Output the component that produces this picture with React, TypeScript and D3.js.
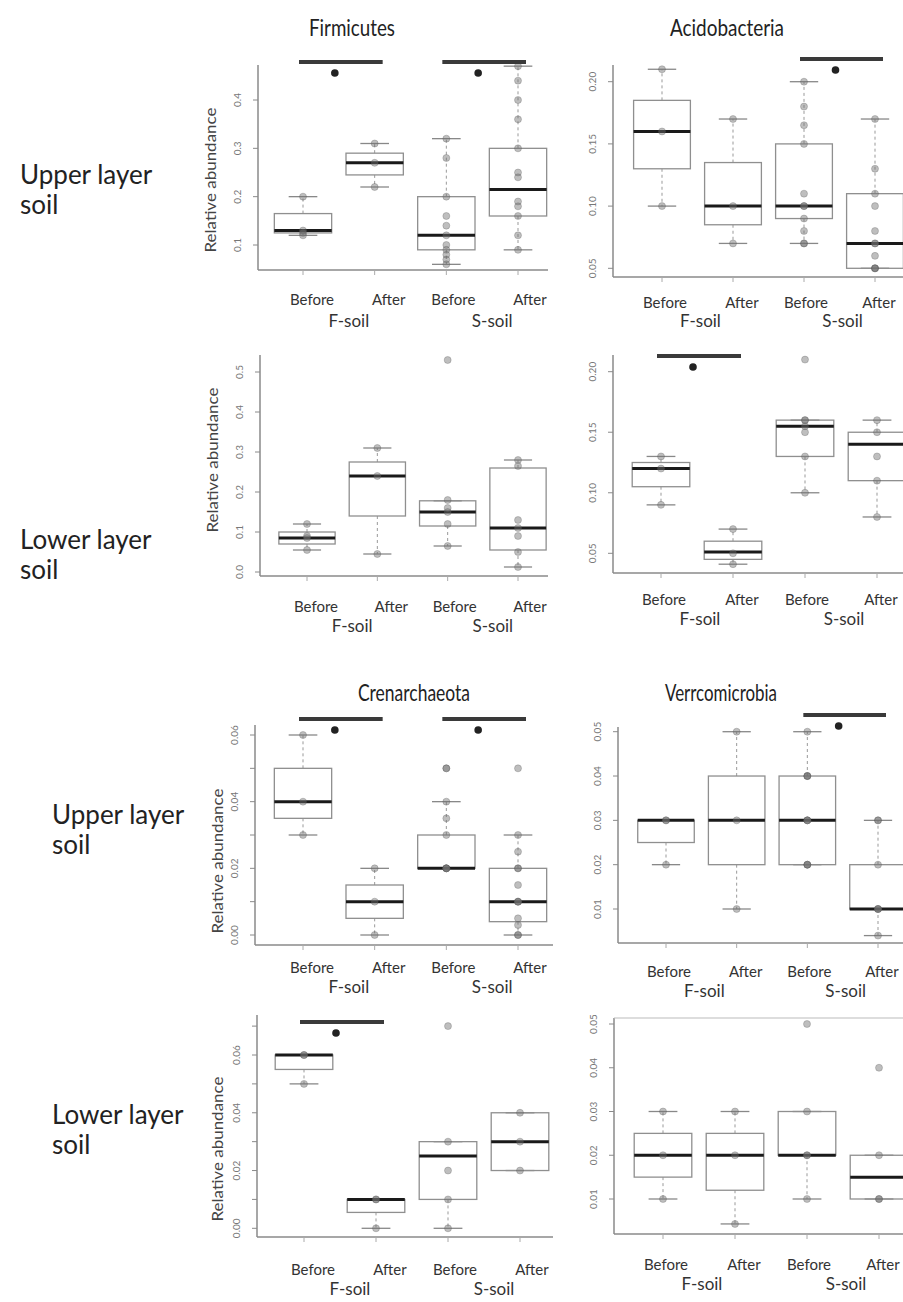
import React from "react";
import * as d3 from "d3";

// ---------- DATA ----------
const groups = ["Before", "After", "Before", "After"];
const soils = ["F-soil", "S-soil"];
const titles = ["Firmicutes", "Acidobacteria", "Crenarchaeota", "Verrcomicrobia"];
const rowLabels = ["Upper layer", "Lower layer"];

// box stats: [lowWhisker, q1, median, q3, highWhisker]
const firmUpperBoxes = [
  [0.12, 0.125, 0.13, 0.165, 0.2],
  [0.22, 0.245, 0.27, 0.29, 0.31],
  [0.06, 0.09, 0.12, 0.2, 0.32],
  [0.09, 0.16, 0.215, 0.3, 0.47],
];
const firmUpperPoints = [
  [0.2, 0.13, 0.125, 0.12],
  [0.31, 0.27, 0.22],
  [0.32, 0.28, 0.2, 0.16, 0.14, 0.12, 0.1, 0.09, 0.08, 0.07, 0.06],
  [0.47, 0.44, 0.4, 0.36, 0.3, 0.25, 0.24, 0.19, 0.18, 0.16, 0.12, 0.09],
];
const acidUpperBoxes = [
  [0.1, 0.13, 0.16, 0.185, 0.21],
  [0.07, 0.085, 0.1, 0.135, 0.17],
  [0.07, 0.09, 0.1, 0.15, 0.2],
  [0.05, 0.05, 0.07, 0.11, 0.17],
];
const acidUpperPoints = [
  [0.21, 0.16, 0.1],
  [0.17, 0.1, 0.07],
  [0.2, 0.18, 0.165, 0.15, 0.11, 0.1, 0.1, 0.09, 0.08, 0.07, 0.07],
  [0.17, 0.13, 0.11, 0.1, 0.08, 0.07, 0.07, 0.06, 0.05, 0.05, 0.05],
];
const firmLowerBoxes = [
  [0.055, 0.07, 0.085, 0.1, 0.12],
  [0.045, 0.14, 0.24, 0.275, 0.31],
  [0.065, 0.115, 0.15, 0.178, 0.178],
  [0.0125, 0.055, 0.11, 0.26, 0.28],
];
const firmLowerPoints = [
  [0.12, 0.09, 0.085, 0.055],
  [0.31, 0.24, 0.045],
  [0.53, 0.18, 0.16, 0.15, 0.12, 0.065],
  [0.28, 0.265, 0.13, 0.11, 0.09, 0.05, 0.0125],
];
const acidLowerBoxes = [
  [0.09, 0.105, 0.12, 0.125, 0.13],
  [0.041, 0.045, 0.051, 0.06, 0.07],
  [0.1, 0.13, 0.155, 0.16, 0.16],
  [0.08, 0.11, 0.14, 0.15, 0.16],
];
const acidLowerPoints = [
  [0.13, 0.12, 0.09],
  [0.07, 0.05, 0.041],
  [0.21, 0.16, 0.16, 0.155, 0.15, 0.13, 0.1],
  [0.16, 0.15, 0.13, 0.11, 0.08],
];
const crenUpperBoxes = [
  [0.03, 0.035, 0.04, 0.05, 0.06],
  [0.0, 0.005, 0.01, 0.015, 0.02],
  [0.02, 0.02, 0.02, 0.03, 0.04],
  [0.0, 0.004, 0.01, 0.02, 0.03],
];
const crenUpperPoints = [
  [0.06, 0.04, 0.03],
  [0.02, 0.01, 0.0],
  [0.05, 0.05, 0.04, 0.035, 0.03, 0.02, 0.02, 0.02, 0.02],
  [0.05, 0.03, 0.025, 0.02, 0.02, 0.015, 0.01, 0.01, 0.01, 0.005, 0.003, 0.0, 0.0],
];
const verrUpperBoxes = [
  [0.02, 0.025, 0.03, 0.03, 0.03],
  [0.01, 0.02, 0.03, 0.04, 0.05],
  [0.02, 0.02, 0.03, 0.04, 0.05],
  [0.004, 0.01, 0.01, 0.02, 0.03],
];
const verrUpperPoints = [
  [0.03, 0.03, 0.02],
  [0.05, 0.03, 0.01],
  [0.05, 0.04, 0.04, 0.04, 0.03, 0.03, 0.03, 0.02, 0.02, 0.02],
  [0.03, 0.03, 0.02, 0.01, 0.01, 0.01, 0.004],
];
const crenLowerBoxes = [
  [0.05, 0.055, 0.06, 0.06, 0.06],
  [0.0, 0.0055, 0.01, 0.01, 0.01],
  [0.0, 0.01, 0.025, 0.03, 0.03],
  [0.02, 0.02, 0.03, 0.04, 0.04],
];
const crenLowerPoints = [
  [0.06, 0.06, 0.05],
  [0.01, 0.01, 0.0],
  [0.07, 0.03, 0.02, 0.01, 0.0],
  [0.04, 0.03, 0.02],
];
const verrLowerBoxes = [
  [0.01, 0.015, 0.02, 0.025, 0.03],
  [0.0043, 0.012, 0.02, 0.025, 0.03],
  [0.01, 0.02, 0.02, 0.03, 0.03],
  [0.01, 0.01, 0.015, 0.02, 0.02],
];
const verrLowerPoints = [
  [0.03, 0.02, 0.01],
  [0.03, 0.02, 0.0043],
  [0.05, 0.03, 0.02, 0.02, 0.01],
  [0.04, 0.02, 0.01, 0.01],
];

const ticksA = [0.1, 0.2, 0.3, 0.4];
const ticksB = [0.05, 0.1, 0.15, 0.2];
const ticksC = [0.0, 0.1, 0.2, 0.3, 0.4, 0.5];
const ticksD = [0.0, 0.01, 0.02, 0.03, 0.04, 0.05, 0.06];
const ticksE = [0.01, 0.02, 0.03, 0.04, 0.05];
const ticksF = [0.0, 0.01, 0.02, 0.03, 0.04, 0.05, 0.06, 0.07];
const labelsD = [0.0, 0.02, 0.04, 0.06];

// significance: pairs of group indices
const sigBoth = [[0, 1], [2, 3]];
const sigF = [[0, 1]];
const sigS = [[2, 3]];
const sigNone: number[][] = [];

// ---------- LAYOUT ----------
type Panel = {
  title?: string; titleX?: number; titleY?: number; titleLen?: number;
  boxes: number[][]; points: number[][];
  axisX: number; top: number; bottom: number; right: number;
  yDom: [number, number]; yRng: [number, number];
  xFirst: number; xLast: number;
  ticks: number[]; labels: number[]; fmt: string;
  sig: number[][]; sigY: number;
  yTitle: boolean; yTitleX?: number; yTitleY?: number;
  labY: number; soilY: number; topLine?: boolean; side: number;
};

const labOffsets = [[9, 14, 7, 12], [3, 9, 2, 4]];
const soilOffsets = [10, 3];

const panels: Panel[] = [
  { title: titles[0], titleX: 352, titleY: 36, titleLen: 86, boxes: firmUpperBoxes, points: firmUpperPoints,
    axisX: 258, top: 65, bottom: 270, right: 548, yDom: [0.1, 0.4], yRng: [245, 100],
    xFirst: 303, xLast: 518, ticks: ticksA, labels: ticksA, fmt: ".1f", sig: sigBoth, sigY: 62,
    yTitle: true, yTitleX: 212, yTitleY: 180, labY: 305, soilY: 327, side: 0 },
  { title: titles[1], titleX: 727, titleY: 36, titleLen: 114, boxes: acidUpperBoxes, points: acidUpperPoints,
    axisX: 613, top: 65, bottom: 277, right: 905, yDom: [0.05, 0.2], yRng: [268.3, 81.7],
    xFirst: 662, xLast: 875, ticks: ticksB, labels: ticksB, fmt: ".2f", sig: sigS, sigY: 59,
    yTitle: false, labY: 308, soilY: 327, side: 1 },
  { boxes: firmLowerBoxes, points: firmLowerPoints,
    axisX: 260, top: 355, bottom: 576, right: 548, yDom: [0, 0.5], yRng: [572, 372],
    xFirst: 307, xLast: 518, ticks: ticksC, labels: ticksC, fmt: ".1f", sig: sigNone, sigY: 0,
    yTitle: true, yTitleX: 214, yTitleY: 460, labY: 612, soilY: 632, side: 0 },
  { boxes: acidLowerBoxes, points: acidLowerPoints,
    axisX: 613, top: 355, bottom: 573, right: 905, yDom: [0.05, 0.2], yRng: [553.3, 371.7],
    xFirst: 661, xLast: 877, ticks: ticksB, labels: ticksB, fmt: ".2f", sig: sigF, sigY: 356,
    yTitle: false, labY: 605, soilY: 625, side: 1 },
  { title: titles[2], titleX: 414, titleY: 701, titleLen: 112, boxes: crenUpperBoxes, points: crenUpperPoints,
    axisX: 255, top: 725, bottom: 945, right: 553, yDom: [0, 0.06], yRng: [935, 735],
    xFirst: 303, xLast: 518, ticks: ticksD, labels: labelsD, fmt: ".2f", sig: sigBoth, sigY: 719,
    yTitle: true, yTitleX: 219, yTitleY: 861, labY: 973, soilY: 993, side: 0 },
  { title: titles[3], titleX: 721, titleY: 701, titleLen: 112, boxes: verrUpperBoxes, points: verrUpperPoints,
    axisX: 618, top: 727, bottom: 943, right: 905, yDom: [0.01, 0.05], yRng: [909, 731.7],
    xFirst: 666, xLast: 878, ticks: ticksE, labels: ticksE, fmt: ".2f", sig: sigS, sigY: 715,
    yTitle: false, labY: 977, soilY: 997, side: 1 },
  { boxes: crenLowerBoxes, points: crenLowerPoints,
    axisX: 257, top: 1015, bottom: 1237, right: 553, yDom: [0, 0.06], yRng: [1228.3, 1055],
    xFirst: 304, xLast: 520, ticks: ticksF, labels: labelsD, fmt: ".2f", sig: sigF, sigY: 1022,
    yTitle: true, yTitleX: 219, yTitleY: 1149, labY: 1275, soilY: 1295, side: 0 },
  { boxes: verrLowerBoxes, points: verrLowerPoints,
    axisX: 614, top: 1018, bottom: 1234, right: 905, yDom: [0.01, 0.05], yRng: [1199, 1024],
    xFirst: 663, xLast: 879, ticks: ticksE, labels: ticksE, fmt: ".2f", sig: sigNone, sigY: 0,
    yTitle: false, labY: 1270, soilY: 1290, topLine: true, side: 1 },
];

const rowLabelPos = [
  { x: 20, y: 184 }, { x: 20, y: 549 }, { x: 52, y: 824 }, { x: 52, y: 1124 },
];

const FONT = "Lato, 'Open Sans', sans-serif";

function BoxPanel({ p }: { p: Panel }) {
  const y = d3.scaleLinear().domain(p.yDom).range(p.yRng);
  const x = d3.scaleLinear().domain([0, 3]).range([p.xFirst, p.xLast]);
  const step = (p.xLast - p.xFirst) / 3;
  const bw = step * 0.8;
  const cw = bw / 2;
  const fmt = d3.format(p.fmt);
  const gray = "#8a8a8a";
  const lo = labOffsets[p.side];
  return (
    <g>
      {p.title && (
        <text x={p.titleX} y={p.titleY} textAnchor="middle" fontSize={23} fill="#222" fontFamily={FONT}
          textLength={p.titleLen} lengthAdjust="spacingAndGlyphs">
          {p.title}
        </text>
      )}
      {/* axes */}
      <line x1={p.axisX} x2={p.axisX} y1={p.top} y2={p.bottom} stroke={gray} strokeWidth={1.5} />
      <line x1={p.axisX} x2={p.right} y1={p.bottom} y2={p.bottom} stroke={gray} strokeWidth={1.5} />
      {p.topLine && <line x1={p.axisX} x2={p.right} y1={p.top} y2={p.top} stroke="#bbb" strokeWidth={1.2} />}
      {p.ticks.map((t, i) => (
        <line key={"t" + i} x1={p.axisX - 5} x2={p.axisX} y1={y(t)} y2={y(t)} stroke={gray} strokeWidth={1} />
      ))}
      {p.labels.map((t, i) => (
        <text key={"l" + i} transform={`translate(${p.axisX - 17},${y(t)}) rotate(-90)`} textAnchor="middle"
          fontSize={10} fill="#777" fontFamily={FONT}>
          {fmt(t)}
        </text>
      ))}
      {groups.map((g, i) => (
        <line key={"xt" + i} x1={x(i)} x2={x(i)} y1={p.bottom} y2={p.bottom + 5} stroke="#aaa" strokeWidth={1} />
      ))}
      {p.yTitle && (
        <text transform={`translate(${p.yTitleX! + 4},${p.yTitleY}) rotate(-90)`} textAnchor="middle" fontSize={15}
          fill="#444" fontFamily={FONT} textLength={145} lengthAdjust="spacingAndGlyphs">
          Relative abundance
        </text>
      )}
      {/* boxes */}
      {p.boxes.map((b, i) => {
        const cx = x(i);
        const [wlo, q1, med, q3, whi] = b;
        return (
          <g key={"b" + i}>
            <line x1={cx} x2={cx} y1={y(q3)} y2={y(whi)} stroke="#999" strokeWidth={1} strokeDasharray="3,3" />
            <line x1={cx} x2={cx} y1={y(q1)} y2={y(wlo)} stroke="#999" strokeWidth={1} strokeDasharray="3,3" />
            <line x1={cx - cw / 2} x2={cx + cw / 2} y1={y(whi)} y2={y(whi)} stroke="#888" strokeWidth={1.3} />
            <line x1={cx - cw / 2} x2={cx + cw / 2} y1={y(wlo)} y2={y(wlo)} stroke="#888" strokeWidth={1.3} />
            <rect x={cx - bw / 2} y={y(q3)} width={bw} height={Math.max(0.5, y(q1) - y(q3))} fill="none"
              stroke="#8f8f8f" strokeWidth={1.3} />
            <line x1={cx - bw / 2} x2={cx + bw / 2} y1={y(med)} y2={y(med)} stroke="#1a1a1a" strokeWidth={3} />
          </g>
        );
      })}
      {/* points */}
      {p.points.map((pts, i) =>
        pts.map((v, j) => (
          <circle key={"p" + i + "-" + j} cx={x(i)} cy={y(v)} r={3.5} fill="#6e6e6e" fillOpacity={0.45}
            stroke="#555" strokeOpacity={0.35} strokeWidth={0.8} />
        ))
      )}
      {/* significance */}
      {p.sig.map((s, i) => (
        <g key={"s" + i}>
          <line x1={x(s[0]) - 4} x2={x(s[1]) + 8} y1={p.sigY} y2={p.sigY} stroke="#3a3a3a" strokeWidth={4} />
          <circle cx={(x(s[0]) + x(s[1])) / 2 - 4} cy={p.sigY + 11} r={3.8} fill="#222" />
        </g>
      ))}
      {/* x labels */}
      {groups.map((g, i) => (
        <text key={"g" + i} x={x(i) + lo[i]} y={p.labY} textAnchor="middle" fontSize={15} fill="#333" fontFamily={FONT}>
          {g}
        </text>
      ))}
      {soils.map((s, i) => (
        <text key={"so" + i} x={(x(2 * i) + x(2 * i + 1)) / 2 + soilOffsets[p.side]} y={p.soilY} textAnchor="middle"
          fontSize={17} fill="#333" fontFamily={FONT}>
          {s}
        </text>
      ))}
    </g>
  );
}

export default function App() {
  return (
    <div style={{ position: "absolute", left: 0, top: 0 }}>
      <svg width={903} height={1302} style={{ display: "block", background: "#fff" }}>
        {rowLabelPos.map((r, i) => (
          <g key={"r" + i}>
            <text x={r.x} y={r.y} fontSize={26} fill="#222" fontFamily={FONT}>{rowLabels[i % 2]}</text>
            <text x={r.x} y={r.y + 30} fontSize={26} fill="#222" fontFamily={FONT}>soil</text>
          </g>
        ))}
        {panels.map((p, i) => (
          <BoxPanel key={i} p={p} />
        ))}
      </svg>
    </div>
  );
}
